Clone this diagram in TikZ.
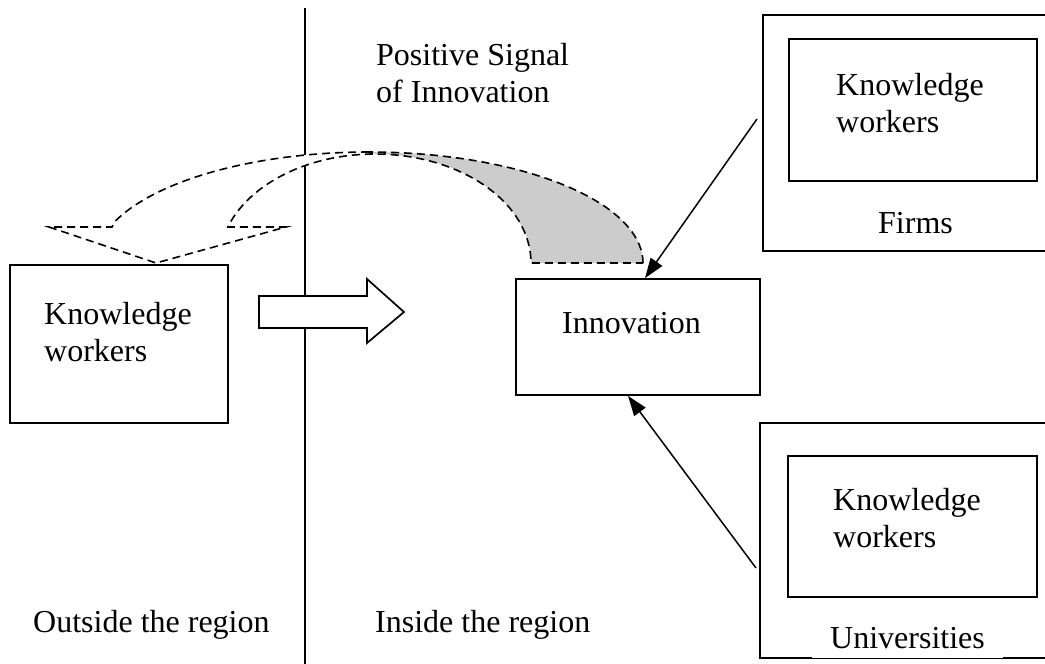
\documentclass[tikz,border=0pt]{standalone}
\usepackage{fontspec}
\setmainfont{Liberation Serif}
\usetikzlibrary{arrows.meta,calc}
\definecolor{ribbonback}{HTML}{CCCCCC}
\begin{document}
\begin{tikzpicture}[x=1pt,y=-1pt,
  frame/.style={draw, line width=1.7pt, inner sep=0pt},
  txt/.style={inner sep=0pt, anchor=base west, align=left, font=\fontsize{32}{37}\selectfont},
  link/.style={line width=1.5pt, -{Triangle[length=20pt,width=14pt]}},
  ribbon/.style={line width=1.6pt, dash pattern=on 8pt off 5pt, line join=miter},
  block/.style={draw, line width=1.7pt, fill=white, line join=miter}]
\useasboundingbox (0,0) rectangle (1045,664);
\clip (0,0) rectangle (1045,664);

% regional border
\coordinate (divTop) at (305,8);
\coordinate (divBottom) at (305,664);
\draw[line width=1.7pt] (divTop) -- (divBottom);

% curved ribbon arrow: shaded back face, then the white front face
\filldraw[ribbon, fill=ribbonback]
  plot[domain=0:90, samples=40, variable=\t] ({369+274*cos(\t)},{263-111*sin(\t)})
  -- plot[domain=90:0, samples=40, variable=\t] ({375+156*cos(\t)},{263-109*sin(\t)})
  -- cycle;
\filldraw[ribbon, fill=white]
  plot[domain=90:158, samples=40, variable=\t] ({369+274*cos(\t)},{263-111*sin(\t)})
  -- (112,227) -- (49,227) -- (156,263) -- (286,227) -- (228,227)
  -- plot[domain=160.4:90, samples=40, variable=\t] ({375+156*cos(\t)},{263-109*sin(\t)})
  -- cycle;

% hollow block arrow across the border
\draw[block] (259,296) -- (367,296) -- (367,279) -- (404,312) -- (367,343)
  -- (367,328) -- (259,328) -- cycle;

% boxes
\node[frame, minimum width=218pt, minimum height=158pt] (outKW) at (119,344) {};
\node[frame, minimum width=244pt, minimum height=116pt] (innov) at (638,337) {};
\node[frame, minimum width=297pt, minimum height=236pt] (firms) at (911.5,133) {};
\node[frame, minimum width=248pt, minimum height=142pt] (firmsKW) at (913,110) {};
\node[frame, minimum width=300pt, minimum height=235pt] (univ) at (910,540.5) {};
\node[frame, minimum width=249pt, minimum height=141pt] (univKW) at (912.5,526.5) {};

% texts (two-line labels are anchored on the baseline of their last line)
\node[txt] (signal) at (376,102) {Positive Signal\\of Innovation};
\node[txt] (outKWtext) at (44,361) {Knowledge\\workers};
\node[txt] (innovText) at (562,333) {Innovation};
\node[txt] (firmsKWtext) at (836,132) {Knowledge\\workers};
\node[txt] (firmsText) at (878,233) {Firms};
\node[txt] (univKWtext) at (833,547) {Knowledge\\workers};
\node[txt, fill=white, inner xsep=18pt, inner ysep=10pt] (univText) at (812,648) {Universities};
\node[txt] (outside) at (33,632) {Outside the region};
\node[txt] (inside) at (375,632) {Inside the region};

% influences on innovation
\coordinate (firmsTail) at (757,119);
\coordinate (univTail) at (756,568);
\draw[link] (firmsTail) -- ($(innov.north)+(7,0)$);
\draw[link] (univTail) -- ($(innov.south)+(-10,0)$);
\end{tikzpicture}
\end{document}
